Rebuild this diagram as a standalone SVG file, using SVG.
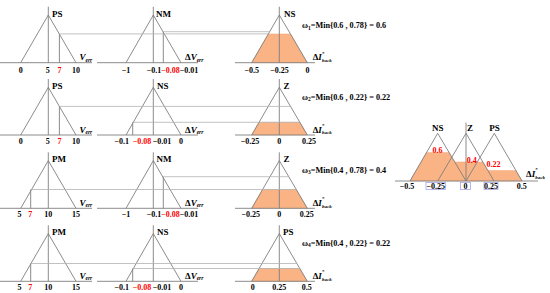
<svg xmlns="http://www.w3.org/2000/svg" width="550" height="293" viewBox="0 0 550 293">
<style>
.t{font-family:"Liberation Serif","Times New Roman",serif;font-weight:bold;font-size:8px;fill:#000}
.lab{font-size:9px}
.w{font-size:8.2px}
.it{font-style:italic}
.r{fill:#ff0000}
.st{font-size:5px}
.bk{font-size:5px;font-style:italic}
.ax{stroke:#7f7f7f;stroke-width:0.9;fill:none}
.con{stroke:#b3b3b3;stroke-width:0.8;fill:none}
.fl{fill:#f9b384;stroke:#f2a06a;stroke-width:0.4}
.bx{fill:none;stroke:#a6a6ea;stroke-width:0.8}
.m{text-anchor:middle}
</style>
<rect width="550" height="293" fill="#fff"/>

<!-- ===== Row 1 ===== -->
<g id="r1-verr">
<path class="ax" d="M0,62.7H92M48.3,6.7V62.7M20.7,62.7L48.3,15L76,62.7M59.4,62.7V33.9"/>
<text class="t lab" x="52" y="16.5">PS</text>
<text class="t it" x="79.5" y="60.2"><tspan font-size="9">V</tspan><tspan font-size="5.5" dy="1.5">err</tspan></text>
<text class="t m" x="20.7" y="72.7">0</text><text class="t m" x="47.8" y="72.7">5</text><text class="t m r" x="59.4" y="72.7">7</text><text class="t m" x="76" y="72.7">10</text>
</g>
<g id="r1-dverr">
<path class="ax" d="M97,62.7H198M153.3,6.7V62.7M126,62.7L153.3,15L181,62.7M163.3,62.7V31.7"/>
<text class="t lab" x="156" y="16.5">NM</text>
<text class="t" x="185" y="60.2"><tspan font-size="9">Δ</tspan><tspan font-size="9" class="it">V</tspan><tspan font-size="5.5" class="it" dy="1.5">err</tspan></text>
<text class="t m" x="126" y="72.7">−1</text>
<text class="t" x="146.7" y="72.7">−0.1<tspan class="r">−0.08</tspan>−0.01</text>
</g>
<g id="r1-out">
<path class="fl" d="M251.7,62.7L268.4,33.9H290.4L307.3,62.7Z"/>
<path class="ax" d="M235,62.7H315M279.3,6.7V62.7M251.7,62.7L279.3,15L307.3,62.7"/>
<text class="t lab" x="284" y="16.5">NS</text>
<text class="t" x="312.7" y="60.2"><tspan font-size="9">Δ</tspan><tspan font-size="9" class="it">I</tspan></text>
<text class="t st" x="322" y="54.5">*</text><text class="t bk" x="322" y="62">back</text>
<text class="t m" x="251.7" y="72.7">−0.5</text><text class="t m" x="279.5" y="72.7">−0.25</text><text class="t m" x="307.5" y="72.7">0</text>
<text class="t w" x="302" y="28.2">ω<tspan font-size="5.5" dy="1.5">1</tspan><tspan dy="-1.5">=Min{0.6 , 0.78} = 0.6</tspan></text>
</g>

<!-- ===== Row 2 ===== -->
<g id="r2-verr">
<path class="ax" d="M0,135H92M48.3,79V135M20.7,135L48.3,87.3L76,135M59.4,135V106.4"/>
<text class="t lab" x="52" y="88.8">PS</text>
<text class="t it" x="79.5" y="132.5"><tspan font-size="9">V</tspan><tspan font-size="5.5" dy="1.5">err</tspan></text>
<text class="t m" x="20.7" y="144">0</text><text class="t m" x="47.8" y="144">5</text><text class="t m r" x="59.4" y="144">7</text><text class="t m" x="76" y="144">10</text>
</g>
<g id="r2-dverr">
<path class="ax" d="M97,135H198M153.3,79V135M126,135L153.3,87.3L181,135M132.7,135V122.3"/>
<text class="t lab" x="157" y="88.8">NS</text>
<text class="t" x="185" y="132.5"><tspan font-size="9">Δ</tspan><tspan font-size="9" class="it">V</tspan><tspan font-size="5.5" class="it" dy="1.5">err</tspan></text>
<text class="t" x="114.5" y="144">−0.1</text><text class="t r" x="132.8" y="144">−0.08</text><text class="t" x="152.8" y="144">−0.01</text><text class="t m" x="181" y="144">0</text>
</g>
<g id="r2-out">
<path class="fl" d="M251.7,135L259,122.3H299.8L307.3,135Z"/>
<path class="ax" d="M235,135H315M279.3,79V135M251.7,135L279.3,87.3L307.3,135"/>
<text class="t lab" x="283.5" y="88.8">Z</text>
<text class="t" x="312.7" y="132.5"><tspan font-size="9">Δ</tspan><tspan font-size="9" class="it">I</tspan></text>
<text class="t st" x="322" y="126.8">*</text><text class="t bk" x="322" y="134.3">back</text>
<text class="t m" x="250" y="144">−0.25</text><text class="t m" x="279.3" y="144">0</text><text class="t m" x="309" y="144">0.25</text>
<text class="t w" x="302" y="99.5">ω<tspan font-size="5.5" dy="1.5">2</tspan><tspan dy="-1.5">=Min{0.6 , 0.22} = 0.22</tspan></text>
</g>

<!-- ===== Row 3 ===== -->
<g id="r3-verr">
<path class="ax" d="M0,208.3H92M48.3,152.3V208.3M20.7,208.3L48.3,160.6L76,208.3M30.7,208.3V189.5"/>
<text class="t lab" x="52" y="162">PM</text>
<text class="t it" x="79.5" y="205.8"><tspan font-size="9">V</tspan><tspan font-size="5.5" dy="1.5">err</tspan></text>
<text class="t m" x="19.5" y="217">5</text><text class="t m r" x="30.3" y="217">7</text><text class="t m" x="48.3" y="217">10</text><text class="t m" x="76" y="217">15</text>
</g>
<g id="r3-dverr">
<path class="ax" d="M97,208.3H198M153.3,152.3V208.3M126,208.3L153.3,160.6L181,208.3M163.3,208.3V176.7"/>
<text class="t lab" x="156.5" y="162">NM</text>
<text class="t" x="185" y="205.8"><tspan font-size="9">Δ</tspan><tspan font-size="9" class="it">V</tspan><tspan font-size="5.5" class="it" dy="1.5">err</tspan></text>
<text class="t m" x="126" y="217">−1</text>
<text class="t" x="146.7" y="217">−0.1<tspan class="r">−0.08</tspan>−0.01</text>
</g>
<g id="r3-out">
<path class="fl" d="M251.7,208.3L262.6,189.5H296.3L307.3,208.3Z"/>
<path class="ax" d="M235,208.3H315M279.3,152.3V208.3M251.7,208.3L279.3,160.6L307.3,208.3"/>
<text class="t lab" x="283.5" y="162">Z</text>
<text class="t" x="312.7" y="205.8"><tspan font-size="9">Δ</tspan><tspan font-size="9" class="it">I</tspan></text>
<text class="t st" x="322" y="200.1">*</text><text class="t bk" x="322" y="207.6">back</text>
<text class="t m" x="250.8" y="217">−0.25</text><text class="t m" x="279.3" y="217">0</text><text class="t m" x="306.7" y="217">0.25</text>
<text class="t w" x="302" y="172.8">ω<tspan font-size="5.5" dy="1.5">3</tspan><tspan dy="-1.5">=Min{0.4 , 0.78} = 0.4</tspan></text>
</g>

<!-- ===== Row 4 ===== -->
<g id="r4-verr">
<path class="ax" d="M0,281.3H92M48.3,225.3V281.3M20.7,281.3L48.3,233.6L76,281.3M30.7,281.3V263.5"/>
<text class="t lab" x="52" y="235">PM</text>
<text class="t it" x="79.5" y="278.8"><tspan font-size="9">V</tspan><tspan font-size="5.5" dy="1.5">err</tspan></text>
<text class="t m" x="19.5" y="290">5</text><text class="t m r" x="30.3" y="290">7</text><text class="t m" x="48.3" y="290">10</text><text class="t m" x="76" y="290">15</text>
</g>
<g id="r4-dverr">
<path class="ax" d="M97,281.3H198M153.3,225.3V281.3M126,281.3L153.3,233.6L181,281.3M132.7,281.3V268.5"/>
<text class="t lab" x="157" y="235">NS</text>
<text class="t" x="185" y="278.8"><tspan font-size="9">Δ</tspan><tspan font-size="9" class="it">V</tspan><tspan font-size="5.5" class="it" dy="1.5">err</tspan></text>
<text class="t" x="114.5" y="290">−0.1</text><text class="t r" x="132.8" y="290">−0.08</text><text class="t" x="152.8" y="290">−0.01</text><text class="t m" x="181" y="290">0</text>
</g>
<g id="r4-out">
<path class="fl" d="M251.7,281.3L259.1,268.5H299.8L307.3,281.3Z"/>
<path class="ax" d="M235,281.3H315M279.3,225.3V281.3M251.7,281.3L279.3,233.6L307.3,281.3"/>
<text class="t lab" x="283" y="235">PS</text>
<text class="t" x="312.7" y="278.8"><tspan font-size="9">Δ</tspan><tspan font-size="9" class="it">I</tspan></text>
<text class="t st" x="322" y="273.1">*</text><text class="t bk" x="322" y="280.6">back</text>
<text class="t m" x="252.7" y="290">0</text><text class="t m" x="279.2" y="290">0.25</text><text class="t m" x="306.7" y="290">0.5</text>
<text class="t w" x="302" y="245.5">ω<tspan font-size="5.5" dy="1.5">4</tspan><tspan dy="-1.5">=Min{0.4 , 0.22} = 0.22</tspan></text>
</g>

<!-- ===== Aggregated output ===== -->
<g id="aggregate">
<path class="fl" d="M410,181L426.6,152.4H449L454.7,161.9H482.8L487.8,170.5H515.9L522,181Z"/>
<path class="ax" d="M395,181H538M466,122.7V181M410,181L437.7,133.3L466,181M437.7,181L466,133.3L494,181M466,181L494.3,133.3L522,181"/>
<text class="t lab m" x="437.7" y="131">NS</text>
<text class="t lab" x="467" y="131">Z</text>
<text class="t lab m" x="494.5" y="131">PS</text>
<text class="t m r" x="437.5" y="153.3">0.6</text>
<text class="t r" x="466.8" y="162.7">0.4</text>
<text class="t r" x="486.5" y="167.3">0.22</text>
<text class="t" x="526" y="177"><tspan font-size="9">Δ</tspan><tspan font-size="9" class="it">I</tspan></text>
<text class="t st" x="535.3" y="171.3">*</text><text class="t bk" x="535.3" y="178.8">back</text>
<rect class="bx" x="426" y="182.5" width="19.5" height="7"/>
<rect class="bx" x="460.5" y="182.5" width="10" height="7"/>
<rect class="bx" x="484" y="182.5" width="14" height="7"/>
<text class="t m" x="407" y="188.7">−0.5</text>
<text class="t m" x="435.8" y="188.7">−0.25</text>
<text class="t m" x="465.5" y="188.7">0</text>
<text class="t m" x="491" y="188.7">0.25</text>
<text class="t m" x="521.8" y="188.7">0.5</text>
</g>

<!-- ===== Connectors ===== -->
<g id="connectors">
<path class="con" d="M59.4,33.9H268.4M163.3,31.7H269.6"/>
<path class="con" d="M59.4,106.4H290.5M132.7,122.3H299.8"/>
<path class="con" d="M30.7,189.5H296.3M163.3,176.7H288.8"/>
<path class="con" d="M30.7,263.5H296.9M132.7,268.5H299.8"/>
</g>
</svg>
